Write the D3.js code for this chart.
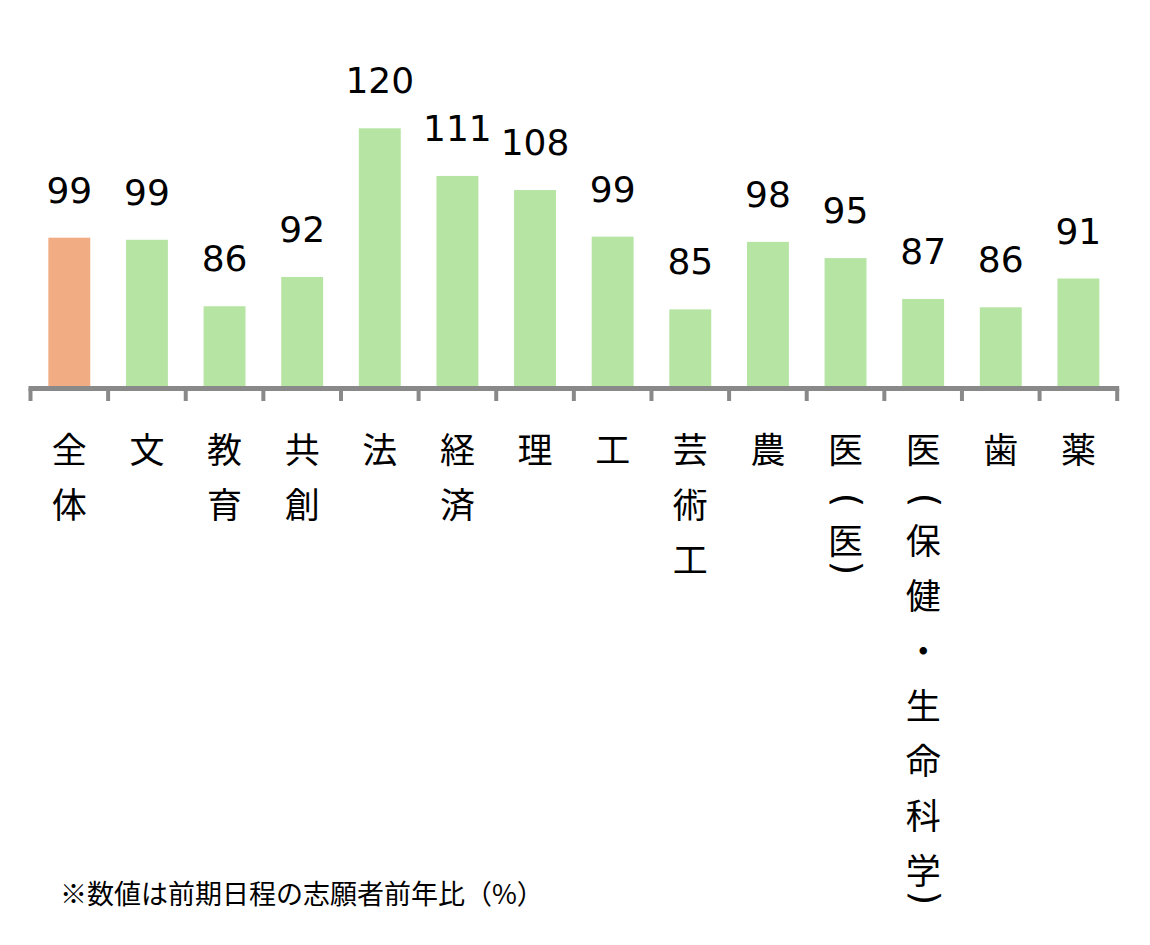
<!DOCTYPE html>
<html>
<head>
<meta charset="utf-8">
<script src="https://cdn.jsdelivr.net/npm/d3@7"></script>
<style>
  body { margin: 0; background: #fff; }
</style>
</head>
<body>
<svg id="chart"></svg>
<script>
const categories = ['全体', '文', '教育', '共創', '法', '経済', '理', '工', '芸術工', '農', '医（医）', '医（保健・生命科学）', '歯', '薬'];
const values = [99.1, 98.7, 86.0, 91.6, 120.0, 110.9, 108.2, 99.3, 85.4, 98.3, 95.2, 87.4, 85.8, 91.3];
const labels = ['99', '99', '86', '92', '120', '111', '108', '99', '85', '98', '95', '87', '86', '91'];
const note = '※数値は前期日程の志願者前年比（%）';

const width = 1150;
const height = 945;

const svg = d3.select('#chart')
  .attr('width', width)
  .attr('height', height);

// x: カテゴリー
const xScale = d3.scaleBand()
  .domain(categories)
  .range([30.5, 1117.2])
  .paddingInner(0.46)
  .paddingOuter(0.23);

// y: 70始まり
const yScale = d3.scaleLinear()
  .domain([70, 120])
  .range([390, 128.3]);

// bars
svg.selectAll('rect.bar')
  .data(categories)
  .enter()
  .append('rect')
  .attr('class', 'bar')
  .attr('x', d => xScale(d))
  .attr('y', (d, i) => yScale(values[i]))
  .attr('width', xScale.bandwidth())
  .attr('height', (d, i) => yScale(70) - yScale(values[i]))
  .attr('fill', (d, i) => i === 0 ? '#f1ac84' : '#b5e4a3');

// value labels
svg.selectAll('text.val')
  .data(categories)
  .enter()
  .append('text')
  .attr('class', 'val')
  .attr('x', d => xScale(d) + xScale.bandwidth() / 2)
  .attr('y', (d, i) => yScale(values[i]) - 35)
  .attr('text-anchor', 'middle')
  .attr('font-family', '"DejaVu Sans", sans-serif')
  .attr('font-size', 36)
  .attr('fill', '#000')
  .text((d, i) => labels[i]);

// axis line
const axisY = 388.5;
const [x0, x1] = xScale.range();
svg.append('line')
  .attr('x1', x0 - 2)
  .attr('x2', x1 + 2)
  .attr('y1', axisY)
  .attr('y2', axisY)
  .attr('stroke', '#898989')
  .attr('stroke-width', 5);

// 区切りの目盛り
const bounds = d3.range(categories.length + 1).map(i => x0 + i * xScale.step());
svg.selectAll('line.tick')
  .data(bounds)
  .enter()
  .append('line')
  .attr('class', 'tick')
  .attr('x1', d => d)
  .attr('x2', d => d)
  .attr('y1', axisY)
  .attr('y2', 401)
  .attr('stroke', '#898989')
  .attr('stroke-width', 4);

// 縦書きラベル (括弧は回転させる)
const parenMap = { '（': '(', '）': ')' };
function layoutChars(label) {
  const out = [];
  let y = 447;
  let prev = null;
  for (const ch of label) {
    if (prev !== null) {
      if (ch === '（') y += 53;
      else if (ch === '）') y += 30;
      else if (prev === '（') y += 38;
      else y += 55;
    }
    out.push({ ch: parenMap[ch] || ch, y: y, paren: !!parenMap[ch] });
    prev = ch;
  }
  return out;
}

const catG = svg.selectAll('g.cat')
  .data(categories)
  .enter()
  .append('g')
  .attr('class', 'cat')
  .attr('transform', d => `translate(${xScale(d) + xScale.bandwidth() / 2}, 0)`);

catG.selectAll('text.ch')
  .data(d => layoutChars(d).filter(c => !c.paren))
  .enter()
  .append('text')
  .attr('class', 'ch')
  .attr('x', 0)
  .attr('y', c => c.y)
  .attr('text-anchor', 'middle')
  .attr('dominant-baseline', 'central')
  .attr('font-family', '"Noto Sans CJK JP", sans-serif')
  .attr('font-size', 35)
  .attr('fill', '#000')
  .text(c => c.ch);

const parenSize = 37;
catG.selectAll('text.paren')
  .data(d => layoutChars(d).filter(c => c.paren))
  .enter()
  .append('text')
  .attr('class', 'paren')
  .attr('x', 0)
  .attr('y', c => c.y + parenSize * 0.315)
  .attr('transform', c => `rotate(90, 0, ${c.y})`)
  .attr('text-anchor', 'middle')
  .attr('font-family', '"DejaVu Sans", sans-serif')
  .attr('font-size', parenSize)
  .attr('fill', '#000')
  .text(c => c.ch);

// 注記
svg.append('text')
  .attr('x', 60)
  .attr('y', 904)
  .attr('font-family', '"Noto Sans CJK JP", sans-serif')
  .attr('font-size', 27)
  .attr('fill', '#000')
  .text(note);
</script>
</body>
</html>
